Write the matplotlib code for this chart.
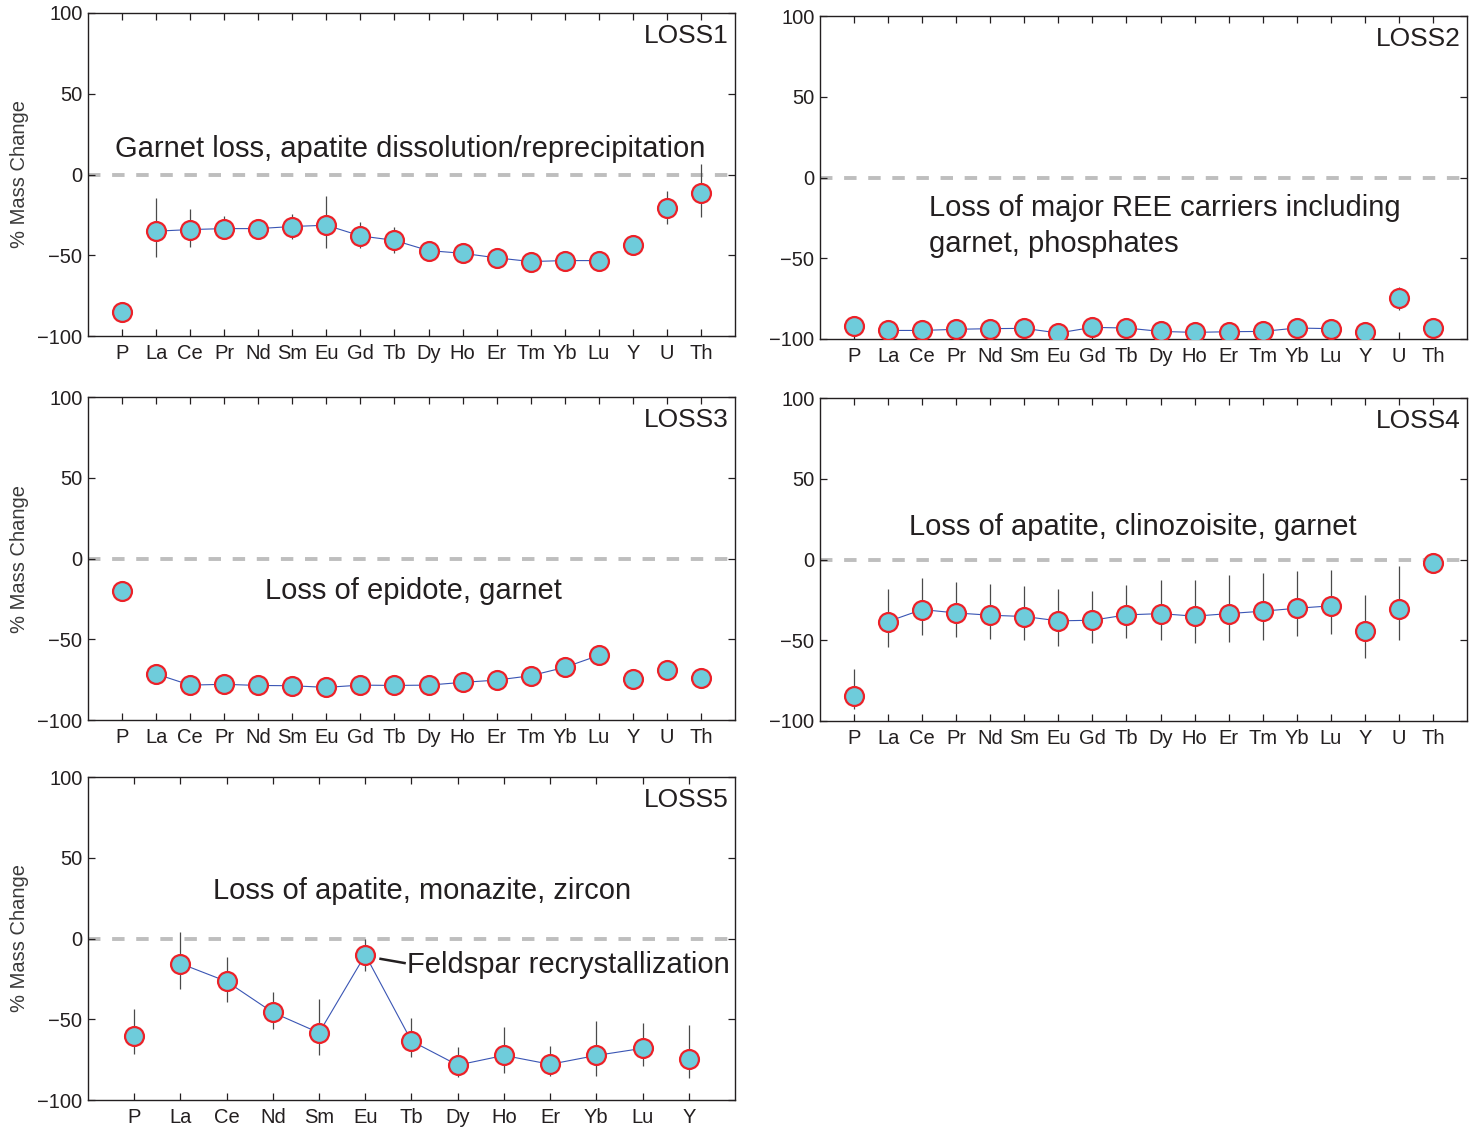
import numpy as np
import matplotlib
matplotlib.use("Agg")
import matplotlib.pyplot as plt

plt.rcParams['font.family'] = ['Liberation Sans', 'DejaVu Sans']

# Element order for the 18-element panels and the reduced LOSS5 panel
elements = ["P", "La", "Ce", "Pr", "Nd", "Sm", "Eu", "Gd", "Tb", "Dy", "Ho",
            "Er", "Tm", "Yb", "Lu", "Y", "U", "Th"]
elements5 = ["P", "La", "Ce", "Nd", "Sm", "Eu", "Tb", "Dy", "Ho", "Er", "Yb", "Lu", "Y"]

# % mass change and error-bar limits (low, high) per element
loss1 = [-85.1, -35.1, -34.1, -33.5, -33.5, -32.2, -31.4, -38.0, -40.8, -47.1,
         -48.8, -51.6, -53.9, -53.3, -53.3, -43.9, -20.8, -11.2]
loss1_lo = [-85.1, -51.0, -44.9, -39.8, -39.0, -39.8, -45.3, -45.3, -48.4, -50.0,
            -51.5, -54.0, -56.0, -55.5, -55.5, -43.9, -30.6, -26.1]
loss1_hi = [-85.1, -14.3, -21.4, -25.5, -27.5, -24.5, -13.3, -29.6, -32.7, -44.0,
            -46.0, -49.0, -52.0, -51.0, -51.0, -43.9, -10.2, 6.7]

loss2 = [-92.2, -94.7, -94.7, -94.0, -93.6, -93.4, -96.3, -92.8, -93.2, -95.3,
         -95.9, -95.5, -95.3, -93.2, -93.6, -95.7, -74.7, -93.2]
loss2_lo = [-92.2, -94.7, -94.7, -94.0, -93.6, -93.4, -96.3, -92.8, -93.2, -95.3,
            -95.9, -95.5, -95.3, -93.2, -93.6, -95.7, -82.0, -93.2]
loss2_hi = [-92.2, -94.7, -94.7, -94.0, -93.6, -93.4, -96.3, -92.8, -93.2, -95.3,
            -95.9, -95.5, -95.3, -93.2, -93.6, -95.7, -67.5, -93.2]

loss3 = [-20.4, -71.5, -78.4, -77.9, -78.6, -78.8, -79.8, -78.4, -78.6, -78.4,
         -76.7, -75.3, -72.6, -67.4, -60.0, -74.8, -68.9, -73.8]

loss4 = [-84.3, -38.4, -31.0, -33.1, -34.5, -35.3, -38.0, -37.6, -34.3, -33.5,
         -35.1, -33.5, -32.0, -30.2, -28.7, -44.2, -30.6, -1.9]
loss4_lo = [-92.4, -54.1, -46.9, -47.9, -49.4, -50.0, -53.5, -51.7, -48.6, -49.6,
            -52.0, -51.0, -50.0, -47.5, -45.9, -61.0, -50.0, -1.9]
loss4_hi = [-67.6, -18.0, -11.4, -13.8, -15.3, -16.5, -18.2, -19.6, -15.9, -12.8,
            -12.8, -9.7, -8.3, -7.0, -6.2, -21.7, -4.1, -1.9]

loss5 = [-60.2, -15.5, -26.6, -45.8, -58.4, -10.1, -63.5, -78.4, -72.4, -77.9,
         -72.4, -68.0, -74.8]
loss5_lo = [-71.5, -31.3, -39.2, -56.3, -72.2, -20.0, -73.6, -85.6, -83.1, -85.2,
            -85.2, -79.0, -86.2]
loss5_hi = [-43.9, 4.1, -11.3, -33.0, -37.7, 0.0, -49.4, -67.4, -54.6, -66.6,
            -51.1, -52.6, -53.6]

FACE = "#6ECCDB"
EDGE = "#EC2128"
LINE = "#3A55B4"
TXT = "#231F20"

ANNOT = 21
TICK = 14.5

W, H = 1478, 1128
fig = plt.figure(figsize=(W / 100, H / 100), dpi=100)


def make_axes(left, top, right, bottom):
    return fig.add_axes([left / W, 1 - bottom / H, (right - left) / W, (bottom - top) / H])


def draw_panel(ax, labels, vals, lo, hi, name, first, last, ylabel):
    x = np.arange(1, len(labels) + 1)
    vals = np.asarray(vals, dtype=float)
    ax.set_xlim(0, len(labels) + 1)
    ax.set_ylim(-100, 100)
    ax.axhline(0, color="#BEBEBE", lw=2.8, ls=(0, (3.2, 3.0)), zorder=1)
    if lo is not None:
        lo = np.asarray(lo, dtype=float)
        hi = np.asarray(hi, dtype=float)
        ax.vlines(x, lo, hi, color="#4A4A4A", lw=0.9, zorder=2)
    seg = slice(first, last + 1)
    ax.plot(x[seg], vals[seg], color=LINE, lw=0.8, zorder=3)
    ax.plot(x, vals, ls="none", marker="o", ms=13.6, mfc=FACE, mec=EDGE,
            mew=1.6, zorder=4)
    ax.set_xticks(x)
    ax.set_xticklabels(labels)
    ax.set_yticks([-100, -50, 0, 50, 100])
    ax.set_yticklabels(["\u2212100", "\u221250", "0", "50", "100"])
    ax.tick_params(direction="in", length=5, width=0.9, top=True, right=True,
                   labelsize=TICK, colors=TXT, pad=4)
    ax.tick_params(axis="x", pad=6)
    for s in ax.spines.values():
        s.set_linewidth(1.0)
        s.set_color(TXT)
    ax.text(0.99, 0.965, name, transform=ax.transAxes, ha="right", va="top",
            fontsize=19, color=TXT)
    if ylabel:
        ax.set_ylabel("% Mass Change", fontsize=14.5, color="#3A3A3A", labelpad=6)


ax1 = make_axes(88, 13, 735, 336)
draw_panel(ax1, elements, loss1, loss1_lo, loss1_hi, "LOSS1", 1, 14, True)
ax1.text(0.78, 15.5, "Garnet loss, apatite dissolution/reprecipitation",
         fontsize=ANNOT, color=TXT, va="center", ha="left")

ax2 = make_axes(820, 16, 1467, 339)
draw_panel(ax2, elements, loss2, loss2_lo, loss2_hi, "LOSS2", 1, 14, False)
ax2.text(3.2, -19, "Loss of major REE carriers including", fontsize=ANNOT,
         color=TXT, va="center", ha="left")
ax2.text(3.2, -41, "garnet, phosphates", fontsize=ANNOT, color=TXT,
         va="center", ha="left")

ax3 = make_axes(88, 397, 735, 720)
draw_panel(ax3, elements, loss3, None, None, "LOSS3", 1, 14, True)
ax3.text(5.2, -20.4, "Loss of epidote, garnet", fontsize=ANNOT, color=TXT,
         va="center", ha="left")

ax4 = make_axes(820, 398, 1467, 721)
draw_panel(ax4, elements, loss4, loss4_lo, loss4_hi, "LOSS4", 1, 14, False)
ax4.text(2.6, 20.4, "Loss of apatite, clinozoisite, garnet", fontsize=ANNOT,
         color=TXT, va="center", ha="left")

ax5 = make_axes(88, 777, 735, 1100)
draw_panel(ax5, elements5, loss5, loss5_lo, loss5_hi, "LOSS5", 1, 11, True)
ax5.text(2.7, 29.7, "Loss of apatite, monazite, zircon", fontsize=ANNOT,
         color=TXT, va="center", ha="left")
ax5.plot([6.33, 6.85], [-12.6, -15.2], color=TXT, lw=1.8, zorder=5)
ax5.text(6.9, -16.7, "Feldspar recrystallization", fontsize=ANNOT, color=TXT,
         va="center", ha="left")

fig.savefig("out.png", dpi=100)
